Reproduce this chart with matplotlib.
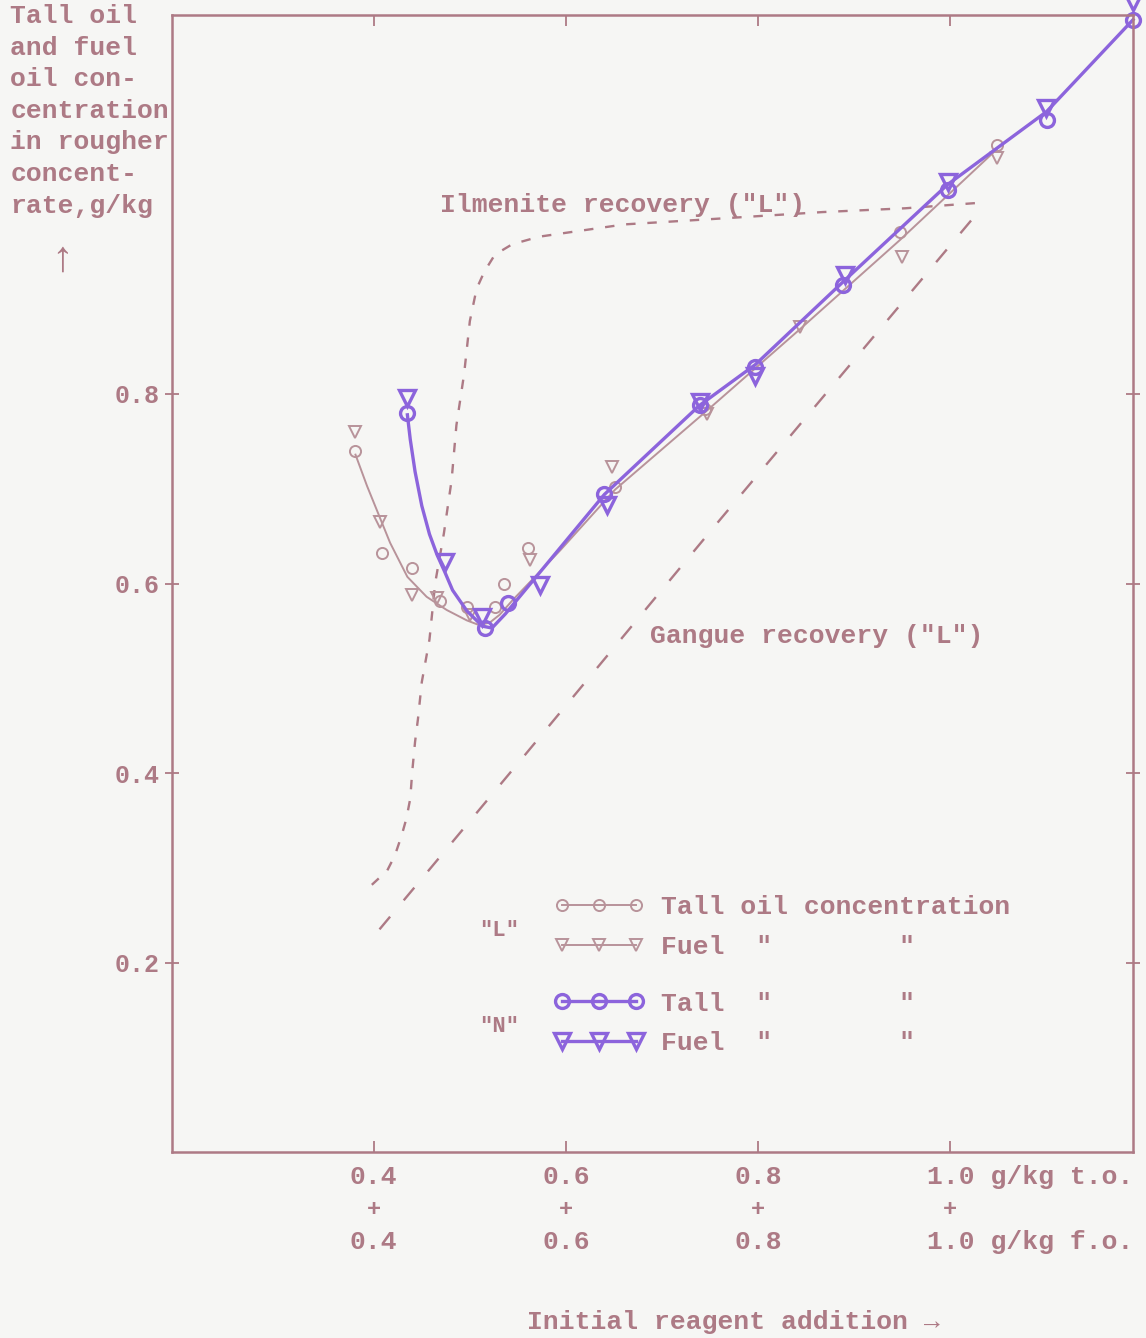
import matplotlib
matplotlib.use('Agg')
import matplotlib.pyplot as plt
from matplotlib.lines import Line2D
from matplotlib.transforms import blended_transform_factory, offset_copy

# Reagent addition (g/kg t.o. + g/kg f.o.) and concentration in rougher concentrate, g/kg
# "L" tall oil
l_tall_x = [0.381, 0.409, 0.440, 0.469, 0.497, 0.526, 0.536, 0.560, 0.651, 0.745, 0.948, 1.048]
l_tall_y = [0.740, 0.632, 0.616, 0.582, 0.575, 0.575, 0.600, 0.637, 0.702, 0.784, 0.971, 1.063]
# "L" fuel oil
l_fuel_x = [0.380, 0.406, 0.440, 0.466, 0.500, 0.563, 0.648, 0.747, 0.843, 0.950, 1.048]
l_fuel_y = [0.760, 0.665, 0.588, 0.585, 0.567, 0.625, 0.723, 0.779, 0.871, 0.945, 1.049]
# drawn curve through the "L" points
l_curve_x = [0.381, 0.393, 0.403, 0.417, 0.435, 0.455, 0.476, 0.497, 0.510, 0.521, 0.531, 0.545,
             0.563, 0.594, 0.651, 0.745, 0.843, 0.948, 1.048]
l_curve_y = [0.736, 0.703, 0.678, 0.643, 0.607, 0.586, 0.572, 0.561, 0.556, 0.559, 0.567, 0.583,
             0.602, 0.635, 0.699, 0.781, 0.868, 0.963, 1.058]

# "N" tall oil
n_tall_x = [0.435, 0.516, 0.540, 0.640, 0.739, 0.797, 0.888, 0.997, 1.100, 1.190]
n_tall_y = [0.780, 0.553, 0.579, 0.694, 0.788, 0.829, 0.915, 1.015, 1.089, 1.195]
# "N" fuel oil
n_fuel_x = [0.435, 0.474, 0.513, 0.573, 0.643, 0.739, 0.797, 0.890, 0.997, 1.099, 1.190]
n_fuel_y = [0.796, 0.623, 0.565, 0.598, 0.683, 0.792, 0.819, 0.926, 1.024, 1.102, 1.214]
# drawn curve through the "N" points
n_curve_x = [0.435, 0.438, 0.443, 0.450, 0.458, 0.466, 0.474, 0.482, 0.497, 0.513, 0.523, 0.537,
             0.573, 0.640, 0.739, 0.797, 0.890, 0.997, 1.100, 1.190]
n_curve_y = [0.778, 0.752, 0.718, 0.682, 0.652, 0.630, 0.612, 0.593, 0.571, 0.555, 0.553, 0.568,
             0.612, 0.694, 0.788, 0.831, 0.920, 1.021, 1.098, 1.195]

# Ilmenite recovery ("L") curve
ilm_x = [0.398, 0.414, 0.422, 0.429, 0.434, 0.438, 0.440, 0.443, 0.446, 0.450, 0.458, 0.464,
         0.473, 0.481, 0.486, 0.494, 0.500, 0.507, 0.515, 0.526, 0.544, 0.572, 0.606, 0.661,
         0.742, 0.867, 0.953, 1.033]
ilm_y = [0.282, 0.297, 0.313, 0.334, 0.352, 0.373, 0.401, 0.433, 0.457, 0.496, 0.541, 0.601,
         0.653, 0.709, 0.767, 0.821, 0.877, 0.911, 0.929, 0.947, 0.958, 0.966, 0.971, 0.979,
         0.984, 0.992, 0.996, 1.002]
# Gangue recovery ("L") line
gan_x = [0.406, 0.554, 0.760, 1.033]
gan_y = [0.235, 0.415, 0.667, 0.997]

x_ticks = [0.4, 0.6, 0.8, 1.0]
x_top = ['0.4', '0.6', '0.8', '1.0 g/kg t.o.']
x_bottom = ['0.4', '0.6', '0.8', '1.0 g/kg f.o.']
y_ticks = [0.2, 0.4, 0.6, 0.8]
y_labels = ['0.2', '0.4', '0.6', '0.8']

# colours of the typed sheet
ink = '#ad7a85'
pale = '#b8939a'
violet = '#8c64dc'
paper = '#f6f6f4'
mono = ['Liberation Mono', 'DejaVu Sans Mono']
fs = 19

plt.rcParams['font.family'] = mono
plt.rcParams['font.weight'] = 'bold'
fig = plt.figure(figsize=(11.46, 13.38), dpi=100, facecolor=paper)
ax = fig.add_axes([0.150, 0.139, 0.8387, 0.8498])
ax.set_facecolor(paper)
ax.set_xlim(0.19, 1.19)
ax.set_ylim(0.0, 1.2)

#recovery curves
ax.plot(ilm_x, ilm_y, color=ink, lw=1.7, dashes=(4, 5))
ax.plot(gan_x, gan_y, color=ink, lw=1.7, dashes=(7, 9))

#"L" curve and points
ax.plot(l_curve_x, l_curve_y, color=pale, lw=1.4, clip_on=False)
ax.plot(l_tall_x, l_tall_y, ls='none', marker='o', ms=8, mfc='none', mec=pale, mew=1.4,
        clip_on=False)
ax.plot(l_fuel_x, l_fuel_y, ls='none', marker='v', ms=9, mfc='none', mec=pale, mew=1.4,
        clip_on=False)

#"N" curve and points
ax.plot(n_curve_x, n_curve_y, color=violet, lw=2.4, clip_on=False)
ax.plot(n_tall_x, n_tall_y, ls='none', marker='o', ms=10, mfc='none', mec=violet, mew=2.4,
        clip_on=False)
ax.plot(n_fuel_x, n_fuel_y, ls='none', marker='v', ms=11, mfc='none', mec=violet, mew=2.4,
        clip_on=False)

#curve labels
ax.text(0.469, 0.9995, 'Ilmenite recovery ("L")', color=ink, fontsize=fs, ha='left',
        va='center')
ax.text(0.687, 0.5446, 'Gangue recovery ("L")', color=ink, fontsize=fs, ha='left',
        va='center')

#legend, two groups
l_handles = [Line2D([], [], color=pale, lw=1.4, marker='o', ms=8, mfc='none', mec=pale, mew=1.4),
             Line2D([], [], color=pale, lw=1.4, marker='v', ms=9, mfc='none', mec=pale, mew=1.4)]
n_handles = [Line2D([], [], color=violet, lw=2.4, marker='o', ms=10, mfc='none', mec=violet, mew=2.4),
             Line2D([], [], color=violet, lw=2.4, marker='v', ms=11, mfc='none', mec=violet, mew=2.4)]
leg_opts = dict(frameon=False, numpoints=3, handlelength=3.4, handletextpad=0.65,
                labelspacing=0.6, borderpad=0, borderaxespad=0, loc='center left',
                prop={'family': mono, 'size': fs, 'weight': 'bold'}, labelcolor=ink)
leg1 = ax.legend(l_handles, ['Tall oil concentration', 'Fuel  "        "'],
                 bbox_to_anchor=(0.398, 0.198), **leg_opts)
ax.add_artist(leg1)
ax.legend(n_handles, ['Tall  "        "', 'Fuel  "        "'],
          bbox_to_anchor=(0.398, 0.113), **leg_opts)
ax.text(0.531, 0.234, '"L"', color=ink, fontsize=fs - 3, ha='center', va='center')
ax.text(0.531, 0.132, '"N"', color=ink, fontsize=fs - 3, ha='center', va='center')

#frame and ticks
for side in ax.spines.values():
    side.set_color(ink)
    side.set_linewidth(1.8)
ax.set_yticks(y_ticks)
ax.set_yticklabels(y_labels, fontsize=fs - 1, color=ink)
ax.set_xticks(x_ticks)
ax.set_xticklabels([])
ax.tick_params(axis='y', direction='inout', length=10, width=1.3, color=ink, right=True, pad=4)
ax.tick_params(axis='x', direction='in', length=8, width=1.3, color=ink, top=True)

#two-row x tick labels with "+" in between
trans = blended_transform_factory(ax.transData, fig.transFigure)
for xv, top, bottom in zip(x_ticks, x_top, x_bottom):
    if len(top) > 3:
        # keep "1.0" over the tick, the unit runs to the right
        t = offset_copy(trans, fig=fig, x=-1.5 * 0.6 * fs, units='points')
        ha = 'left'
    else:
        t = trans
        ha = 'center'
    ax.text(xv, 0.1203, top, transform=t, ha=ha, va='center', fontsize=fs, color=ink)
    ax.text(xv, 0.0957, '+', transform=trans, ha='center', va='center', fontsize=fs - 2, color=ink)
    ax.text(xv, 0.0717, bottom, transform=t, ha=ha, va='center', fontsize=fs, color=ink)

fig.text(0.64, 0.012, 'Initial reagent addition \u2192', ha='center', va='center',
         fontsize=fs, color=ink)
fig.text(0.009, 0.997, 'Tall oil\nand fuel\noil con-\ncentration\nin rougher\nconcent-\nrate,g/kg',
         ha='left', va='top', fontsize=fs, color=ink, linespacing=1.4)
fig.text(0.054, 0.806, '\u2191', ha='center', va='center', fontsize=fs + 12, color=ink,
         fontweight='normal')

fig.savefig('out.png', dpi=100, facecolor=paper)
